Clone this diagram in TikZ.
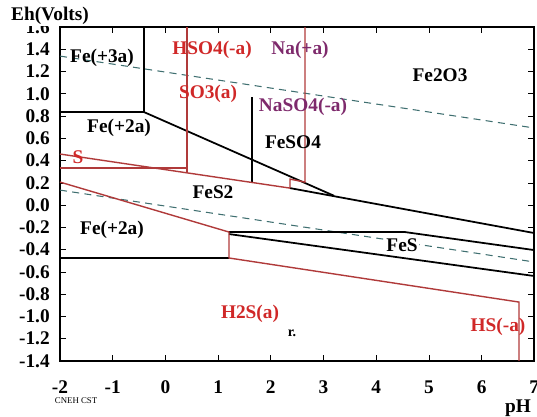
\documentclass[tikz,border=0pt]{standalone}
\usepackage{fontspec}
\setmainfont{Liberation Serif}[BoldFont={Liberation Serif Bold}]

\definecolor{bndred}{HTML}{B03A3A}
\definecolor{labred}{HTML}{D02828}
\definecolor{labpurple}{HTML}{7E2A6C}
\definecolor{watercol}{HTML}{3F6F70}

\begin{document}
\begin{tikzpicture}[x=1.054cm, y=2.226cm,
    font=\fontsize{11}{13}\selectfont\bfseries,
    frame/.style={line width=1.2pt},
    bnd/.style={line width=1pt, black},
    redbnd/.style={line width=0.8pt, bndred},
    water/.style={line width=0.6pt, watercol, dash pattern=on 4pt off 3pt},
    phase/.style={inner sep=1pt},
    redlab/.style={phase, text=labred},
    purplab/.style={phase, text=labpurple}]

  \useasboundingbox (-3.139,-1.895) rectangle (7.051,1.843);

  % -- Frame and ticks --
  \draw[frame] (-2,-1.4) rectangle (7,1.6);
  \foreach \v in {1.4,1.2,1.0,0.8,0.6,0.4,0.2,0.0,-0.2,-0.4,-0.6,-0.8,-1.0,-1.2} {
    \draw (-2,\v) -- ++(0.12cm,0pt);
    \draw (7,\v) -- ++(-0.12cm,0pt);
  }
  \foreach \p in {-1,0,...,6} {
    \draw (\p,-1.4) -- ++(0pt,0.12cm);
    \draw (\p,1.6) -- ++(0pt,-0.12cm);
  }

  % -- Axis labels --
  \foreach \v [count=\i] in {1.6,1.4,1.2,1.0,0.8,0.6,0.4,0.2,0.0,-0.2,-0.4,-0.6,-0.8,-1.0,-1.2,-1.4}
    \node[anchor=east, inner sep=0pt] (ehlab\i) at ([xshift=-0.2cm]-2,\v) {\v};
  \foreach \p [count=\i] in {-2,-1,0,1,2,3,4,5,6,7}
    \node[inner sep=0pt] (phlab\i) at (\p,-1.634) {\p};
  \node[fill=white, inner sep=0.5pt] (ehaxis) at (-2.19,1.70) {Eh(Volts)};
  \node (phaxis) at (6.69,-1.823) {pH};
  \node[font=\fontsize{5}{6}\selectfont, inner sep=0pt] (credit) at (-1.696,-1.755) {CNEH CST};

  % -- Water stability lines --
  \draw[water] (-2,1.339) -- (7,0.693);
  \draw[water] (-2,0.135) -- (7,-0.511);

  % -- Iron boundaries --
  \draw[bnd] (-0.406,1.6) -- (-0.406,0.836) -- (-2,0.836);
  \draw[bnd] (-0.406,0.836) -- (3.2,0.084);
  \draw[bnd] (2.364,0.153) -- (7,-0.251);
  \draw[bnd] (1.643,0.971) -- (1.643,0.204);
  \draw[bnd] (-2,-0.475) -- (1.207,-0.475);
  \draw[bnd] (1.207,-0.242) -- (4.546,-0.242) -- (7,-0.404);
  \draw[bnd] (1.207,-0.26) -- (7,-0.637);

  % -- Sulfur boundaries --
  \draw[redbnd] (-2,0.459) -- (2.364,0.153);
  \draw[redbnd] (-2,0.333) -- (0.410,0.333);
  \draw[redbnd] (0.410,1.6) -- (0.410,0.290);
  \draw[redbnd] (2.649,1.6) -- (2.649,0.207) -- (2.364,0.234) -- (2.364,0.153);
  \draw[redbnd] (-2,0.207) -- (1.207,-0.242) -- (1.207,-0.475) -- (6.710,-0.871) -- (6.710,-1.4);

  % -- Phase labels --
  \node[phase] (fe3) at (-1.203,1.321) {Fe(+3a)};
  \node[phase] (fe2up) at (-0.880,0.693) {Fe(+2a)};
  \node[phase] (feso4) at (2.421,0.567) {FeSO4};
  \node[phase] (fe2o3) at (5.211,1.169) {Fe2O3};
  \node[phase] (fes2) at (0.903,0.118) {FeS2};
  \node[phase] (fe2lo) at (-1.013,-0.224) {Fe(+2a)};
  \node[phase, fill=white] (fes) at (4.490,-0.359) {FeS};
  \node[phase, font=\fontsize{8}{9}\selectfont\bfseries] (rmark) at (2.402,-1.149) {r.};
  \node[redlab] (sulf) at (-1.658,0.432) {S};
  \node[redlab] (hso4) at (0.884,1.393) {HSO4(-a)};
  \node[redlab] (so3) at (0.808,0.998) {SO3(a)};
  \node[redlab] (h2s) at (1.605,-0.979) {H2S(a)};
  \node[redlab] (hs) at (6.311,-1.095) {HS(-a)};
  \node[purplab] (na) at (2.554,1.393) {Na(+a)};
  \node[purplab] (naso4) at (2.611,0.881) {NaSO4(-a)};

\end{tikzpicture}
\end{document}
